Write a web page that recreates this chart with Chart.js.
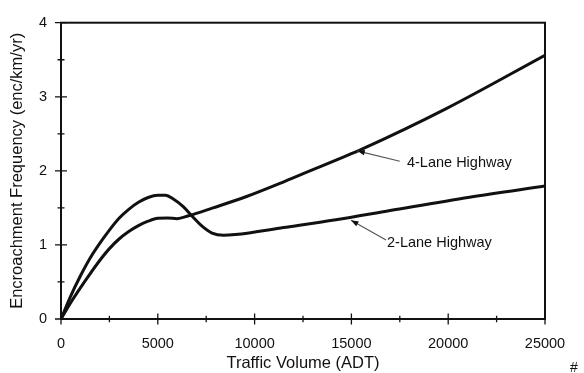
<!DOCTYPE html>
<html><head><meta charset="utf-8">
<script src="https://cdn.jsdelivr.net/npm/chart.js@4/dist/chart.umd.min.js"></script>
<style>html,body{margin:0;padding:0;background:#fff}</style>
</head><body>
<canvas id="c" width="584" height="373"></canvas>
<script>
// ---- data ----
const twoLaneX = [0, 500, 1000, 1500, 2000, 2500, 3000, 3500, 4000, 4500, 5000, 5400, 5800, 6300, 6800, 7300, 7800, 8400, 9000, 11500, 14200, 17000, 21100, 25000];
const twoLaneY = [0, 0.31, 0.58, 0.82, 1.02, 1.20, 1.36, 1.48, 1.575, 1.64, 1.67, 1.67, 1.62, 1.52, 1.38, 1.25, 1.16, 1.13, 1.14, 1.235, 1.34, 1.465, 1.645, 1.795];
const fourLaneX = [0, 500, 1000, 1500, 2000, 2500, 3000, 3500, 4000, 4500, 5000, 5500, 6000, 6550, 7850, 9550, 11300, 12300, 15600, 19900, 25000];
const fourLaneY = [0, 0.22, 0.42, 0.61, 0.79, 0.95, 1.08, 1.18, 1.26, 1.32, 1.36, 1.365, 1.355, 1.39, 1.50, 1.65, 1.83, 1.94, 2.30, 2.84, 3.56];
const xTitle = 'Traffic Volume (ADT)';
const yTitle = 'Encroachment Frequency (enc/km/yr)';
const labels = [
  {text: '4-Lane Highway', tip: [15300, 2.27], tail: [17500, 2.13], at: [17870, 2.105]},
  {text: '2-Lane Highway', tip: [14980, 1.333], tail: [16790, 1.066], at: [16840, 1.03]}
];

const FONT = "'Liberation Sans', Arial, sans-serif";
const pts = (xs, ys) => xs.map((x, i) => ({x, y: ys[i]}));

const framePlugin = {
  id: 'frame',
  afterDraw(chart) {
    const {ctx, chartArea: a, scales: {x, y}} = chart;
    ctx.save();
    ctx.strokeStyle = '#111';
    ctx.lineWidth = 2;
    ctx.strokeRect(a.left, a.top, a.right - a.left, a.bottom - a.top);
    ctx.lineWidth = 1.3;
    ctx.beginPath();
    x.ticks.forEach(t => {
      const px = x.getPixelForValue(t.value);
      const h = t.value % 5000 === 0 ? 5.5 : 3.3;
      ctx.moveTo(px, a.bottom - h); ctx.lineTo(px, a.bottom + h);
    });
    y.ticks.forEach(t => {
      const py = y.getPixelForValue(t.value);
      const h = Number.isInteger(t.value) ? 6 : 3.5;
      ctx.moveTo(a.left - h, py); ctx.lineTo(a.left + h, py);
    });
    ctx.stroke();
    // annotations
    ctx.font = '14.5px ' + FONT;
    ctx.fillStyle = '#111';
    ctx.textBaseline = 'middle';
    ctx.textAlign = 'left';
    labels.forEach(l => {
      const tx = x.getPixelForValue(l.tip[0]), ty = y.getPixelForValue(l.tip[1]);
      const sx = x.getPixelForValue(l.tail[0]), sy = y.getPixelForValue(l.tail[1]);
      ctx.strokeStyle = '#555';
      ctx.lineWidth = 1.2;
      ctx.beginPath(); ctx.moveTo(sx, sy); ctx.lineTo(tx, ty); ctx.stroke();
      const ang = Math.atan2(ty - sy, tx - sx);
      ctx.fillStyle = '#111';
      ctx.beginPath();
      ctx.moveTo(tx, ty);
      ctx.lineTo(tx - 8 * Math.cos(ang - 0.35), ty - 8 * Math.sin(ang - 0.35));
      ctx.lineTo(tx - 8 * Math.cos(ang + 0.35), ty - 8 * Math.sin(ang + 0.35));
      ctx.closePath(); ctx.fill();
      ctx.fillText(l.text, x.getPixelForValue(l.at[0]), y.getPixelForValue(l.at[1]));
    });
    ctx.font = '14px ' + FONT;
    ctx.fillText('#', 570, 368);
    ctx.restore();
  }
};

new Chart(document.getElementById('c'), {
  type: 'scatter',
  data: {
    datasets: [
      {label: '2-Lane Highway', data: pts(twoLaneX, twoLaneY)},
      {label: '4-Lane Highway', data: pts(fourLaneX, fourLaneY)}
    ].map(d => Object.assign(d, {showLine: true, borderColor: '#111', borderWidth: 3, pointRadius: 0, cubicInterpolationMode: 'monotone', fill: false}))
  },
  options: {
    responsive: false, animation: false,
    layout: {padding: {left: 0, right: 39, top: 15, bottom: 0}},
    plugins: {legend: {display: false}, tooltip: {enabled: false}},
    scales: {
      x: {
        type: 'linear', min: 0, max: 25000,
        afterFit: s => { s.height = 54; },
        grid: {display: true, drawOnChartArea: false, drawTicks: false},
        border: {display: false},
        ticks: {stepSize: 2500, autoSkip: false, maxRotation: 0, padding: 16, color: '#111', font: {family: FONT, size: 14.5},
          callback: v => v % 5000 === 0 ? String(v) : ''},
        title: {display: true, text: xTitle, color: '#111', font: {family: FONT, size: 16.5}, padding: {top: 0, bottom: 0}}
      },
      y: {
        type: 'linear', min: 0, max: 4,
        afterFit: s => { s.width = 61; },
        grid: {display: true, drawOnChartArea: false, drawTicks: false},
        border: {display: false},
        ticks: {stepSize: 0.5, autoSkip: false, padding: 14, color: '#111', font: {family: FONT, size: 14.5},
          callback: v => Number.isInteger(v) ? String(v) : ''},
        title: {display: true, text: yTitle, color: '#111', font: {family: FONT, size: 16.5}, padding: {top: 8, bottom: 0}}
      }
    }
  },
  plugins: [framePlugin]
});
</script>
</body></html>
